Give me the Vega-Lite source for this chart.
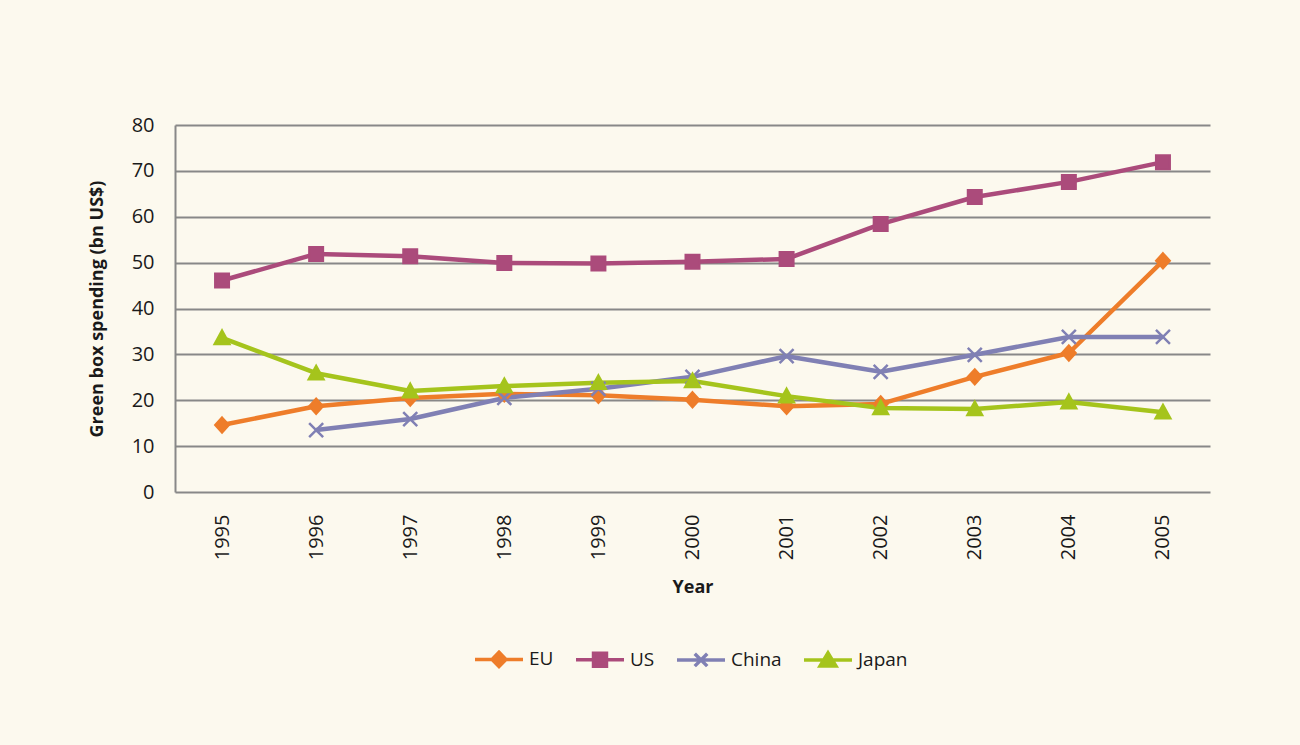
{
  "$schema": "https://vega.github.io/schema/vega-lite/v6.json",
  "width": 1035,
  "height": 367,
  "autosize": {"type": "none"},
  "padding": {"left": 175, "top": 125, "right": 90, "bottom": 253},
  "background": "#FCF9EE",
  "config": {"view": {"stroke": null}, "font": "Open Sans"},
  "data": {
    "values": [
      {"series": "EU", "year": "1995", "value": 14.6},
      {"series": "EU", "year": "1996", "value": 18.7},
      {"series": "EU", "year": "1997", "value": 20.5},
      {"series": "EU", "year": "1998", "value": 21.4},
      {"series": "EU", "year": "1999", "value": 21.1},
      {"series": "EU", "year": "2000", "value": 20.1},
      {"series": "EU", "year": "2001", "value": 18.7},
      {"series": "EU", "year": "2002", "value": 19.2},
      {"series": "EU", "year": "2003", "value": 25.1},
      {"series": "EU", "year": "2004", "value": 30.3},
      {"series": "EU", "year": "2005", "value": 50.4},
      {"series": "US", "year": "1995", "value": 46.1},
      {"series": "US", "year": "1996", "value": 51.9},
      {"series": "US", "year": "1997", "value": 51.4},
      {"series": "US", "year": "1998", "value": 49.9},
      {"series": "US", "year": "1999", "value": 49.8},
      {"series": "US", "year": "2000", "value": 50.2},
      {"series": "US", "year": "2001", "value": 50.8},
      {"series": "US", "year": "2002", "value": 58.4},
      {"series": "US", "year": "2003", "value": 64.3},
      {"series": "US", "year": "2004", "value": 67.6},
      {"series": "US", "year": "2005", "value": 71.9},
      {"series": "China", "year": "1996", "value": 13.5},
      {"series": "China", "year": "1997", "value": 15.9},
      {"series": "China", "year": "1998", "value": 20.5},
      {"series": "China", "year": "1999", "value": 22.5},
      {"series": "China", "year": "2000", "value": 25.1},
      {"series": "China", "year": "2001", "value": 29.6},
      {"series": "China", "year": "2002", "value": 26.2},
      {"series": "China", "year": "2003", "value": 29.9},
      {"series": "China", "year": "2004", "value": 33.8},
      {"series": "China", "year": "2005", "value": 33.8},
      {"series": "Japan", "year": "1995", "value": 33.6},
      {"series": "Japan", "year": "1996", "value": 25.9},
      {"series": "Japan", "year": "1997", "value": 22.0},
      {"series": "Japan", "year": "1998", "value": 23.1},
      {"series": "Japan", "year": "1999", "value": 23.8},
      {"series": "Japan", "year": "2000", "value": 24.2},
      {"series": "Japan", "year": "2001", "value": 20.9},
      {"series": "Japan", "year": "2002", "value": 18.3},
      {"series": "Japan", "year": "2003", "value": 18.1},
      {"series": "Japan", "year": "2004", "value": 19.6},
      {"series": "Japan", "year": "2005", "value": 17.4}
    ]
  },
  "encoding": {
    "x": {
      "field": "year",
      "type": "ordinal",
      "scale": {"type": "point", "padding": 0.5},
      "axis": {
        "title": "Year",
        "titleFontSize": 18,
        "titleFontWeight": "bold",
        "titleColor": "#1a1a1a",
        "titlePadding": 19,
        "labelAngle": -90,
        "labelFontSize": 20,
        "labelColor": "#1a1a1a",
        "labelPadding": 22,
        "ticks": false,
        "tickSize": 0,
        "domain": false,
        "grid": false
      }
    },
    "y": {
      "field": "value",
      "type": "quantitative",
      "scale": {"domain": [0, 80], "nice": false},
      "axis": {
        "title": "Green box spending (bn US$)",
        "titleFontSize": 18,
        "titleFontWeight": "bold",
        "titleColor": "#1a1a1a",
        "titlePadding": 25,
        "values": [0, 10, 20, 30, 40, 50, 60, 70, 80],
        "labelFontSize": 20,
        "labelColor": "#1a1a1a",
        "labelPadding": 21,
        "ticks": false,
        "tickSize": 0,
        "domain": true,
        "domainColor": "#888888",
        "domainWidth": 2,
        "grid": true,
        "gridColor": "#888888",
        "gridWidth": 2,
        "gridOpacity": 1
      }
    }
  },
  "layer": [
    {
      "mark": {"type": "line", "strokeWidth": 4.5, "strokeJoin": "round"},
      "encoding": {
        "color": {
          "field": "series",
          "type": "nominal",
          "scale": {
            "domain": ["EU", "US", "China", "Japan"],
            "range": ["#EE7D2A", "#AB4B7B", "#8080B4", "#A5C41C"]
          },
          "legend": {
            "orient": "none",
            "legendX": 298,
            "legendY": 508,
            "direction": "horizontal",
            "title": null,
            "padding": 0,
            "symbolSize": 2304,
            "labelFontSize": 19,
            "labelColor": "#1a1a1a",
            "labelOffset": 4,
            "columnPadding": 15,
            "symbolStrokeWidth": 3.5,
            "encode": {
              "symbols": {
                "update": {
                  "shape": {"signal": "datum.value === 'EU' ? 'M-1,0H1M0,-0.3L0.29,0L0,0.3L-0.29,0Z' : datum.value === 'US' ? 'M-1,0H1M-0.27,-0.27H0.27V0.27H-0.27Z' : datum.value === 'China' ? 'M-1,0H1M-0.26,-0.26L0.26,0.26M-0.26,0.26L0.26,-0.26' : 'M-1,0H1M0,-0.3L0.33,0.24L-0.33,0.24Z'"},
                  "fill": {"signal": "datum.value === 'EU' ? '#EE7D2A' : datum.value === 'US' ? '#AB4B7B' : datum.value === 'China' ? 'transparent' : '#A5C41C'"},
                  "stroke": {"signal": "datum.value === 'EU' ? '#EE7D2A' : datum.value === 'US' ? '#AB4B7B' : datum.value === 'China' ? '#8080B4' : '#A5C41C'"},
                  "strokeWidth": {"value": 3.5},
                  "opacity": {"value": 1}
                }
              }
            }
          }
        }
      }
    },
    {
      "transform": [{"filter": "datum.series === 'EU'"}],
      "mark": {"type": "point", "filled": true, "opacity": 1, "size": 196, "shape": "M0,-1.1L1,0L0,1.1L-1,0Z", "fill": "#EE7D2A", "stroke": "#EE7D2A", "strokeWidth": 2}
    },
    {
      "transform": [{"filter": "datum.series === 'US'"}],
      "mark": {"type": "point", "filled": true, "opacity": 1, "size": 196, "shape": "M-1,-1H1V1H-1Z", "fill": "#AB4B7B", "stroke": "#AB4B7B", "strokeWidth": 2}
    },
    {
      "transform": [{"filter": "datum.series === 'China'"}],
      "mark": {"type": "point", "filled": false, "opacity": 1, "size": 196, "shape": "M-1,-1L1,1M-1,1L1,-1", "fill": "transparent", "stroke": "#8080B4", "strokeWidth": 2.5}
    },
    {
      "transform": [{"filter": "datum.series === 'Japan'"}],
      "mark": {"type": "point", "filled": true, "opacity": 1, "size": 196, "shape": "M0,-1.1L1.1,0.9L-1.1,0.9Z", "fill": "#A5C41C", "stroke": "#A5C41C", "strokeWidth": 2}
    }
  ]
}
